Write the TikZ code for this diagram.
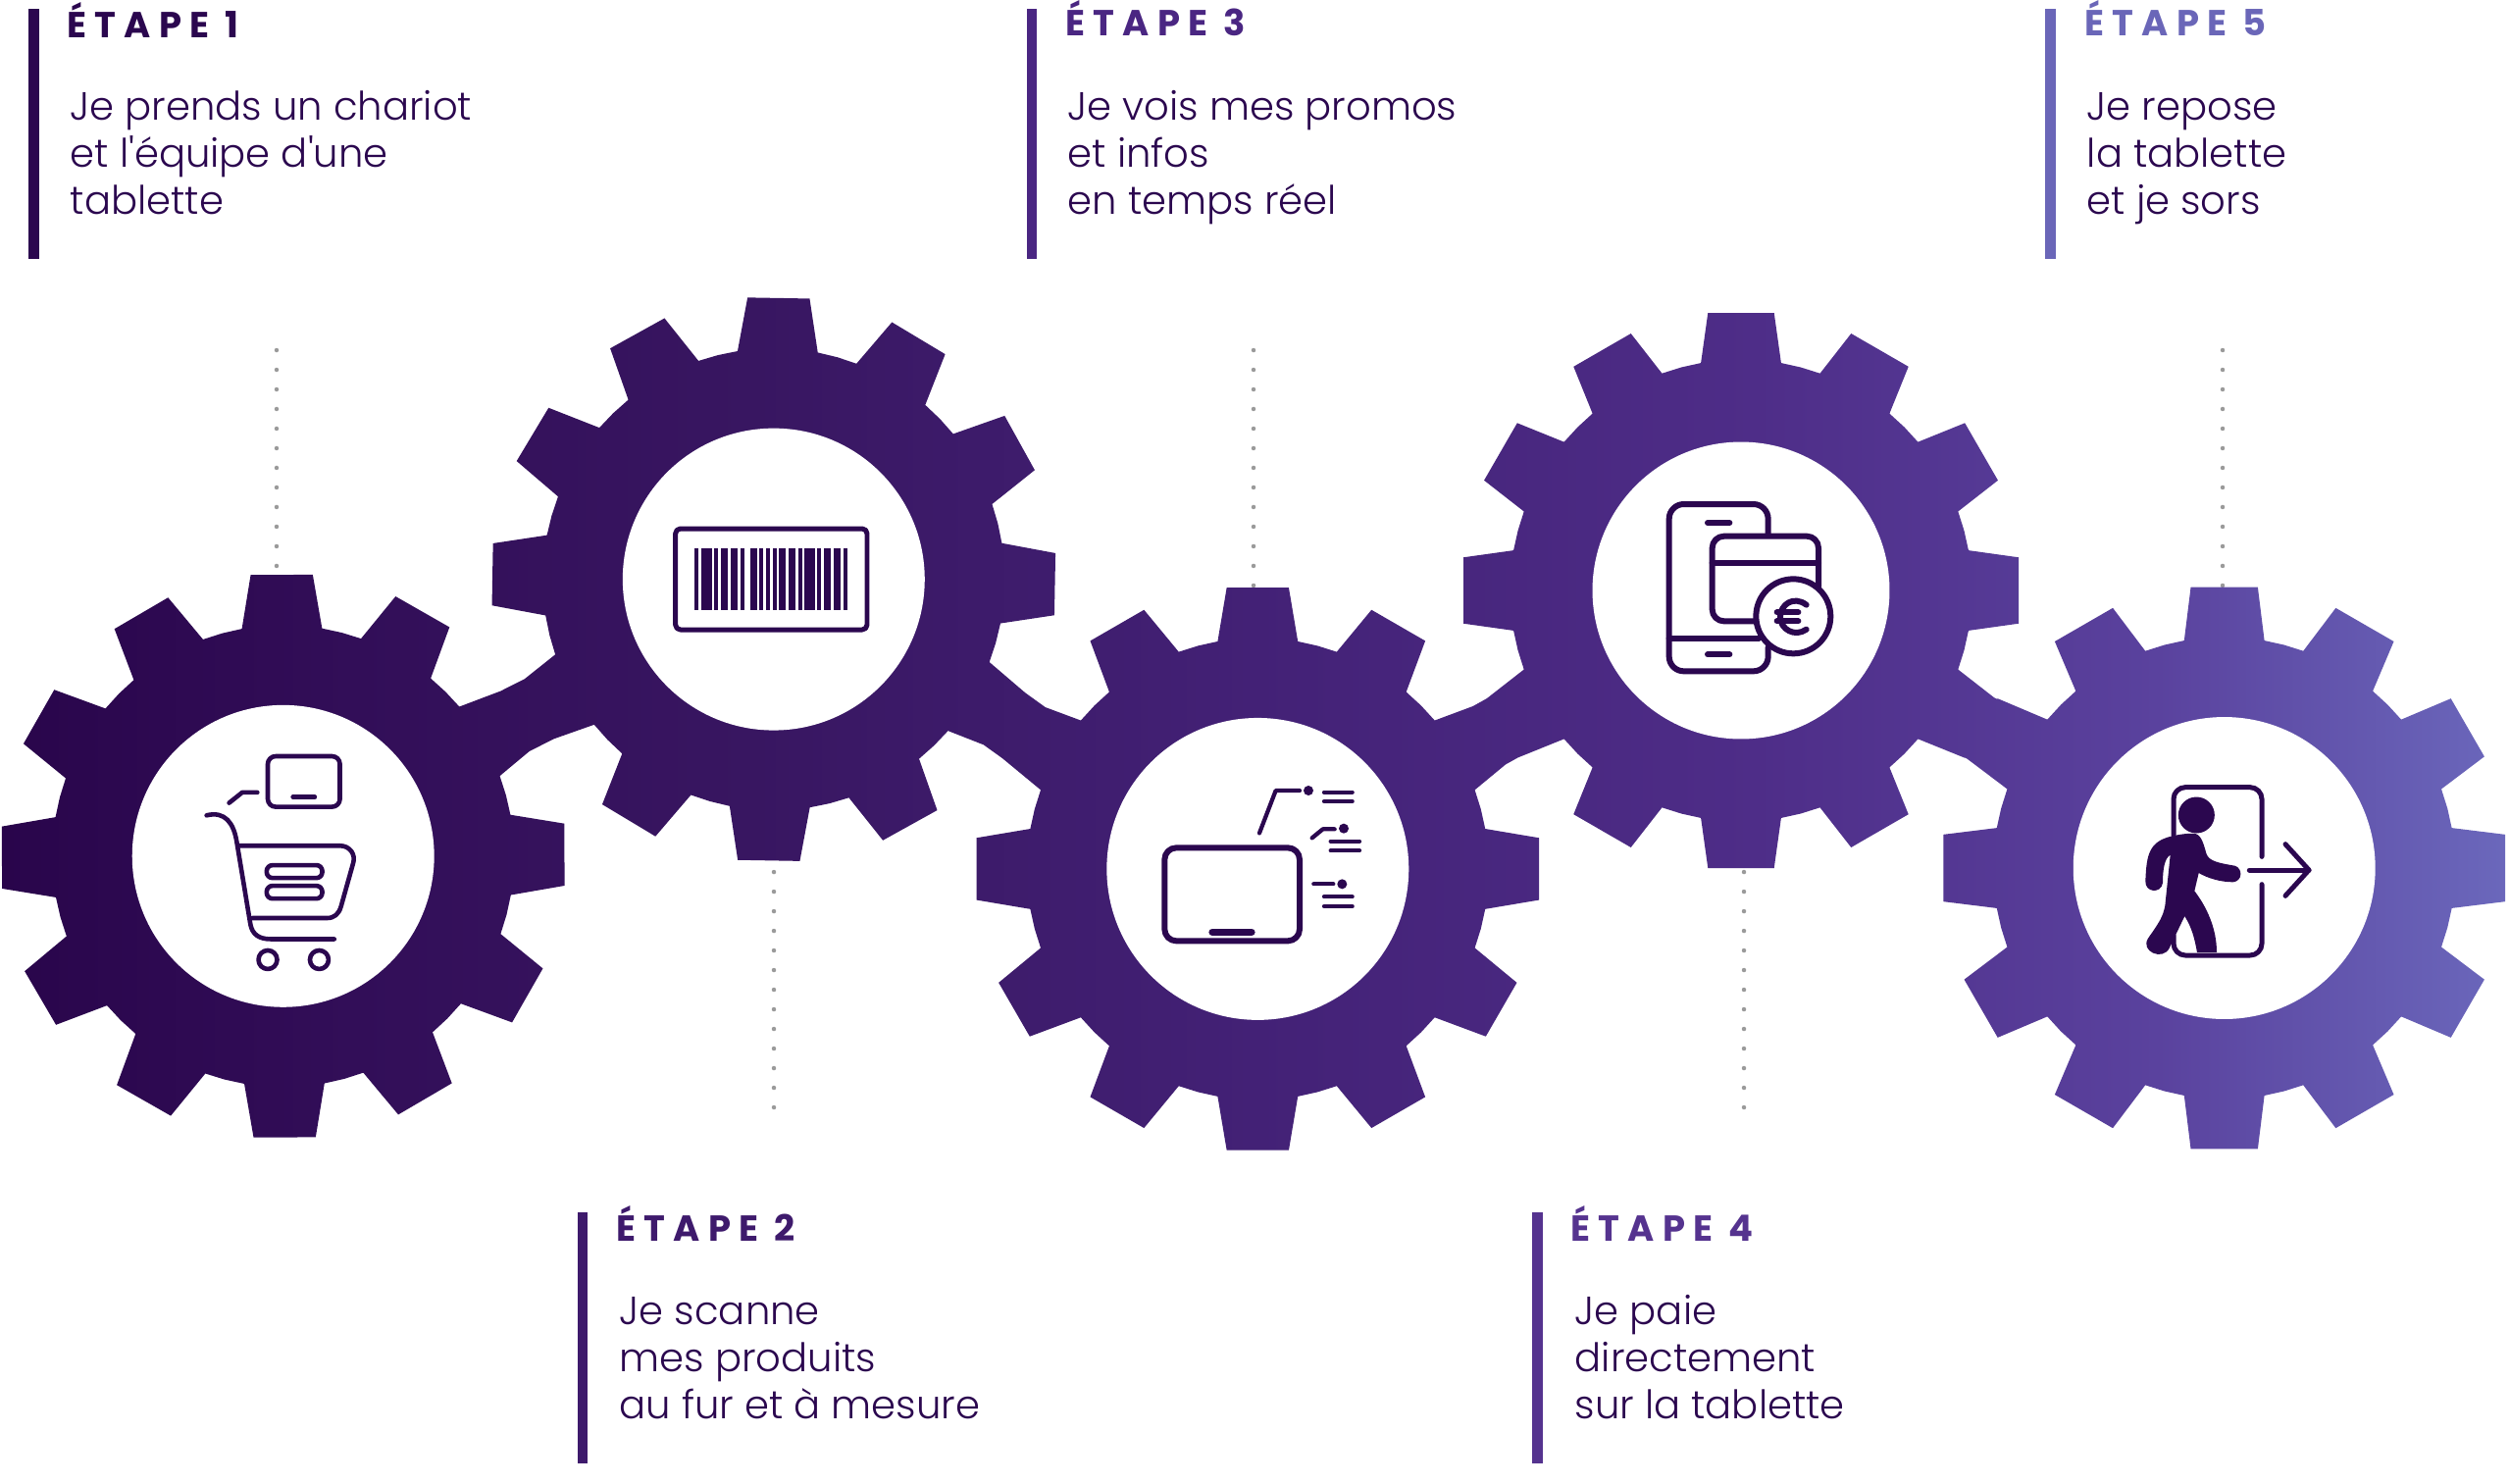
\documentclass[tikz,border=0pt]{standalone}
\usepackage{fontspec}
\usetikzlibrary{calc}
\newfontfamily\bodyf{Poppins Light}
\newfontfamily\headf[LetterSpace=22]{Poppins Bold}
\definecolor{ink}{HTML}{2B074F}
\definecolor{hb}{HTML}{3E1A6C}
\definecolor{hc}{HTML}{4A2682}
\definecolor{hd}{HTML}{55338F}
\definecolor{he}{HTML}{6A66B8}
\definecolor{sa}{HTML}{29054B}
\definecolor{sb}{HTML}{320E58}
\definecolor{sc}{HTML}{381661}
\definecolor{sd}{HTML}{432176}
\definecolor{se}{HTML}{4E2D88}
\definecolor{sf}{HTML}{5A429E}
\definecolor{sg}{HTML}{6B68BC}
\definecolor{dotc}{HTML}{9A9A9A}
\pgfdeclarehorizontalshading{gearshade}{100bp}{
  color(0bp)=(sa); color(25bp)=(sa); color(32bp)=(sb); color(40bp)=(sc);
  color(50bp)=(sd); color(60bp)=(se); color(68bp)=(sf); color(75bp)=(sg); color(100bp)=(sg)}
% #1 cx, #2 cy, #3 rotation, #4 outer radius, #5 tip half angle
\newcommand\gearp[5]{
  ({#1+235.5*cos(#3-10)},{#2+235.5*sin(#3-10)})
  \foreach \a in {0,30,...,330} {
    -- ({#1+235.5*cos(#3+\a-10)},{#2+235.5*sin(#3+\a-10)})
    -- ({#1+#4*cos(#3+\a-#5)},{#2+#4*sin(#3+\a-#5)})
    -- ({#1+#4*cos(#3+\a+#5)},{#2+#4*sin(#3+\a+#5)})
    -- ({#1+235.5*cos(#3+\a+10)},{#2+235.5*sin(#3+\a+10)})
    -- ({#1+235.5*cos(#3+\a+15)},{#2+235.5*sin(#3+\a+15)})
  } -- cycle
}
% bridge between meeting teeth: centre a, tooth angle a, centre b, tooth angle b
\newcommand\bridgep[6]{
  ({#1+268*cos(#3+7.3)},{#2+268*sin(#3+7.3)})
  -- ({#1+268*cos(#3-7.3)},{#2+268*sin(#3-7.3)})
  -- ({#4+268*cos(#6+7.3)},{#5+268*sin(#6+7.3)})
  -- ({#4+268*cos(#6-7.3)},{#5+268*sin(#6-7.3)}) -- cycle
}
\tikzset{
  bar/.style={line width=0.21cm},
  headtxt/.style={anchor=base west,inner sep=0pt,font=\headf\fontsize{21}{25}\selectfont},
  bodytxt/.style={anchor=base west,inner sep=0pt,align=left,text=ink,font=\bodyf\fontsize{22.85}{27.3}\selectfont},
  dots/.style={draw=dotc,line width=0.09cm,line cap=round,dash pattern=on 0pt off 0.4cm},
  hub/.style={circle,fill=white,inner sep=0pt,minimum size=6.16cm},
  icon/.style={draw=ink,line cap=round,line join=round,fill=none},
}
\begin{document}
\begin{tikzpicture}[x=0.02cm,y=-0.02cm]
\useasboundingbox (0,0) rectangle (2558,1512);
\fill[white] (0,0) rectangle (2558,1512);
\coordinate (g1) at (288.7,872.8);
\coordinate (g2) at (788.8,590.6);
\coordinate (g3) at (1282.3,885.9);
\coordinate (g4) at (1775,602);
\coordinate (g5) at (2267.7,885);
\coordinate (d1) at (282,357);
\coordinate (d2) at (789,1129);
\coordinate (d3) at (1278,357);
\coordinate (d4) at (1778,1129);
\coordinate (d5) at (2266,357);
\draw[dots] (d1) -- (d1 |- g1);
\draw[dots] (d2) -- (d2 |- g2);
\draw[dots] (d3) -- (d3 |- g3);
\draw[dots] (d4) -- (d4 |- g4);
\draw[dots] (d5) -- (d5 |- g5);
\begin{scope}
\clip \gearp{288.7}{872.8}{-0.3}{288.5}{6.3}
      \gearp{788.8}{590.6}{1}{288.5}{6.3}
      \gearp{1282.3}{885.9}{0}{288.5}{6.3}
      \gearp{1775}{602}{0}{285}{6.8}
      \gearp{2267.7}{885}{0}{288.5}{6.8}
      \bridgep{288.7}{872.8}{329.7}{788.8}{590.6}{151}
      \bridgep{788.8}{590.6}{31}{1282.3}{885.9}{210}
      \bridgep{1282.3}{885.9}{330}{1775}{602}{150}
      \bridgep{1775}{602}{30}{2267.7}{885}{210};
\shade[shading=gearshade] (0,0) rectangle (2558,1512);
\end{scope}
\node[hub] (h1) at (g1) {};
\node[hub] (h2) at (g2) {};
\node[hub] (h3) at (g3) {};
\node[hub,minimum size=6.06cm] (h4) at (g4) {};
\node[hub] (h5) at (g5) {};
% cart
\begin{scope}[shift={(0,560)},x=0.007654cm,y=-0.007927cm,icon,line width=0.092cm]
\draw[rounded corners=0.16cm] (713,532) rectangle (905,662);
\draw (780,637) -- (838,637);
\draw (610,652) -- (645,625) -- (685,625);
\draw (550,684) .. controls (600,672) and (622,705) .. (630,750) -- (667,965) .. controls (672,990) and (690,1002) .. (720,1002) -- (890,1002);
\draw (635,762) -- (905,762) .. controls (932,762) and (948,785) .. (940,808) -- (908,918) .. controls (902,938) and (890,948) .. (870,948) -- (672,948);
\draw[rounded corners=0.12cm] (710,812) rectangle (858,845);
\draw[rounded corners=0.12cm] (710,865) rectangle (858,898);
\node[draw=ink,circle,inner sep=0pt,minimum size=0.38cm,line width=0.092cm] (w1) at (713,1055) {};
\node[draw=ink,circle,inner sep=0pt,minimum size=0.38cm,line width=0.092cm] (w2) at (850,1055) {};
\end{scope}
% barcode
\begin{scope}[shift={(640,500)},x=0.006667cm,y=-0.006667cm]
\draw[icon,line width=0.1cm,rounded corners=0.1cm] (146,117) rectangle (732,426);
\foreach \l/\r in {205/217,225/258,265/277,285/306,316/337,344/356,375/396,403/415,423/435,443/455,462/482,492/513,521/533,541/573,580/592,600/621,631/652,660/671}
  \fill[ink] (\l,178) rectangle (\r,365);
\end{scope}
% tablet
\begin{scope}[shift={(1150,770)},x=0.006667cm,y=-0.006667cm,icon,line width=0.085cm]
\draw[line width=0.12cm,rounded corners=0.24cm] (112,283) rectangle (525,568);
\draw[line width=0.145cm] (258,541) -- (378,541);
\draw (402,238) -- (452,108) -- (525,108);
\fill[ink] (552,108) circle[radius=0.1cm];
\draw (600,113) -- (686,113); \draw (600,141) -- (686,141);
\draw (563,253) -- (596,226) -- (632,226);
\fill[ink] (660,224) circle[radius=0.1cm];
\draw (620,263) -- (708,263); \draw (620,292) -- (708,292);
\draw (568,394) -- (628,394);
\fill[ink] (655,394) circle[radius=0.1cm];
\draw (600,433) -- (686,433); \draw (600,462) -- (686,462);
\end{scope}
% phone
\begin{scope}[shift={(1660,490)},x=0.006667cm,y=-0.006667cm,icon,line width=0.12cm]
\draw[rounded corners=0.3cm] (428,162) -- (428,72) -- (125,72) -- (125,583) -- (428,583) -- (428,510);
\draw (125,482) -- (400,482);
\draw (243,129) -- (310,129);
\draw (243,532) -- (310,532);
\draw[rounded corners=0.24cm] (582,325) -- (582,170) -- (257,170) -- (257,430) -- (385,430);
\draw (257,252) -- (582,252);
\draw (505,415) circle[radius=0.76cm];
\draw (545,380) .. controls (505,350) and (465,380) .. (465,417) .. controls (465,455) and (510,480) .. (545,455);
\draw (455,403) -- (520,403);
\draw (455,430) -- (520,430);
\end{scope}
% exit
\begin{scope}[shift={(2150,780)},x=0.006667cm,y=-0.006667cm,icon,line width=0.1cm]
\draw[rounded corners=0.24cm] (468,280) -- (468,68) -- (198,68) -- (198,215);
\draw[rounded corners=0.24cm] (468,365) -- (468,582) -- (198,582) -- (198,520);
\draw (430,321) -- (612,321);
\draw (540,242) -- (612,321) -- (540,400);
\fill[ink] (268,153) circle[radius=0.37cm];
\fill[ink] (190,218) .. controls (225,210) and (250,208) .. (265,210)
  .. controls (285,215) and (292,250) .. (298,270) .. controls (305,295) and (340,300) .. (385,308)
  .. controls (410,315) and (410,355) .. (380,358) .. controls (340,358) and (300,345) .. (275,330)
  -- (262,385) .. controls (300,435) and (330,500) .. (330,573) -- (270,573)
  .. controls (262,530) and (255,500) .. (232,462) -- (185,560)
  .. controls (165,600) and (95,570) .. (120,530) .. controls (155,480) and (165,465) .. (172,430)
  -- (188,275) .. controls (170,285) and (165,320) .. (165,360)
  .. controls (160,395) and (110,390) .. (112,355) .. controls (115,270) and (125,235) .. (190,218) -- cycle;
\end{scope}
% labels
\draw[bar,draw=ink] (34.5,9) coordinate (b1a) -- (34.5,264) coordinate (b1b);
\draw[bar,draw=hb] (594,1236) coordinate (b2a) -- (594,1492) coordinate (b2b);
\draw[bar,draw=hc] (1052,9) coordinate (b3a) -- (1052,264) coordinate (b3b);
\draw[bar,draw=hd] (1567.5,1236) coordinate (b4a) -- (1567.5,1492) coordinate (b4b);
\draw[bar,draw=he] (2090.5,9) coordinate (b5a) -- (2090.5,264) coordinate (b5b);
\node[headtxt,text=ink] (e1) at (68.5,38) {ÉTAPE 1};
\node[headtxt,text=hb] (e2) at (628.5,1265) {ÉTAPE 2};
\node[headtxt,text=hc] (e3) at (1086.5,36) {ÉTAPE 3};
\node[headtxt,text=hd] (e4) at (1601.5,1265) {ÉTAPE 4};
\node[headtxt,text=he] (e5) at (2125.5,36) {ÉTAPE 5};
\node[bodytxt] (t1) at (71.5,218.5) {Je prends un chariot\\et l'équipe d'une\\tablette};
\node[bodytxt] (t2) at (631.5,1446) {Je scanne\\mes produits\\au fur et à mesure};
\node[bodytxt] (t3) at (1088.5,218.5) {Je vois mes promos\\et infos\\en temps réel};
\node[bodytxt] (t4) at (1605.5,1446) {Je paie\\directement\\sur la tablette};
\node[bodytxt] (t5) at (2127.5,218.5) {Je repose\\la tablette\\et je sors};
\end{tikzpicture}
\end{document}
